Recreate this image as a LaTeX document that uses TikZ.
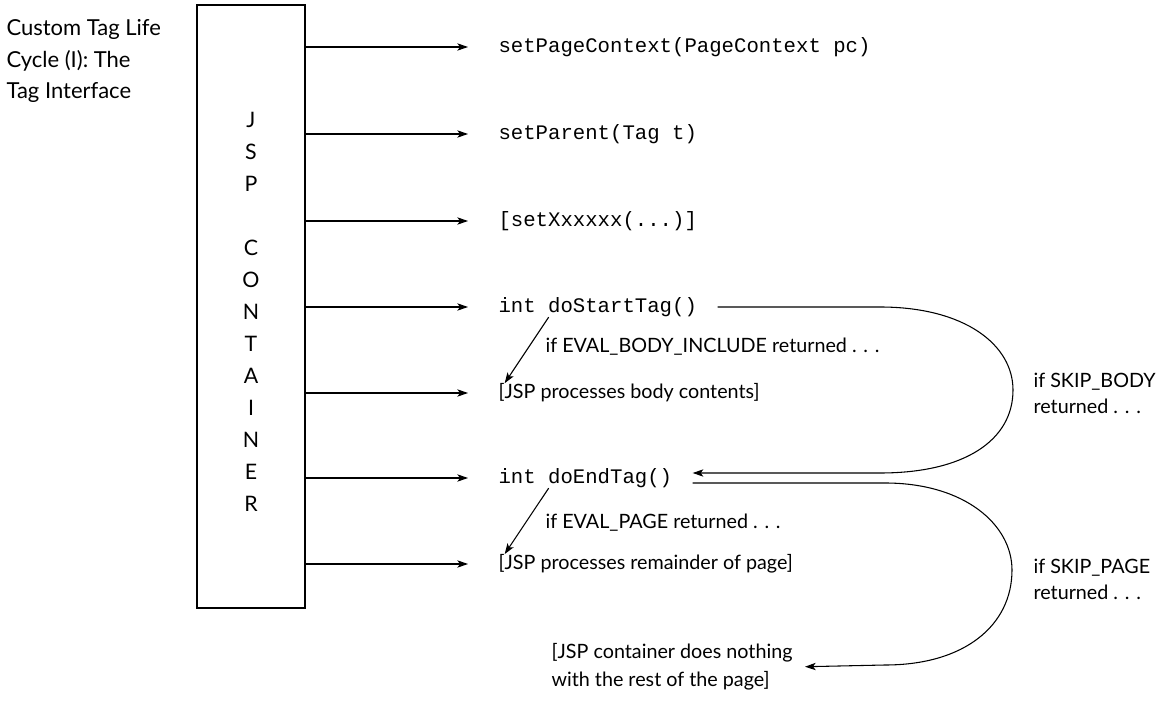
\documentclass[tikz,border=0pt]{standalone}
\usepackage{fontspec}
\setmainfont{Lato}
\setmonofont{Liberation Mono}
\usetikzlibrary{arrows.meta}

\begin{document}
\begin{tikzpicture}[x=0.75pt,y=-0.75pt,>={Stealth[length=8pt,width=5.5pt,inset=2pt]},
  line width=0.8pt,
  box node/.style={draw,line width=1pt,minimum width=81pt,minimum height=452pt,inner sep=0pt},
  letter node/.style={inner sep=0pt,align=center,font=\fontsize{16}{24}\selectfont},
  call node/.style={anchor=west,inner sep=0pt,font=\ttfamily\fontsize{15.5}{18}\selectfont},
  text node/.style={anchor=west,inner sep=0pt,font=\fontsize{14.8}{16}\selectfont},
  side node/.style={anchor=west,inner sep=0pt,align=left,font=\fontsize{14.8}{19.5}\selectfont},
  call/.style={->,shorten >=22.5pt},
  skip line/.style={->,shorten <=15pt,shorten >=15pt}]
  \useasboundingbox (0,0) rectangle (1168,702);

  \node[anchor=north west,inner sep=0pt,align=left,font=\fontsize{16.5}{23.6}\selectfont] (title) at (6,19)
    {Custom Tag Life\\Cycle (I): The\\Tag Interface};
  \node[box node] (box) at (251,306.5) {};
  \node[letter node] (jsp) at (251,312) {J\\S\\P\\[24pt]C\\O\\N\\T\\A\\I\\N\\E\\R};

  \node[call node] (ctx) at (498,47) {setPageContext(PageContext pc)};
  \node[call node] (parent) at (498,134) {setParent(Tag t)};
  \node[call node] (setx) at (498,221) {[setXxxxxx(...)]};
  \node[call node] (start) at (498,307) {int doStartTag()};
  \node[text node] (body) at (498,393) {[JSP processes body contents]};
  \node[call node] (end) at (498,478) {int doEndTag()};
  \node[text node] (rest) at (498,564) {[JSP processes remainder of page]};
  \node[side node,font=\fontsize{14.8}{21}\selectfont] (nothing) at (551,667)
    {[JSP container does nothing\\with the rest of the page]};

  \node[text node] (evalbody) at (545,347) {if EVAL\_BODY\_INCLUDE returned . . .};
  \node[text node] (evalpage) at (545,523) {if EVAL\_PAGE returned . . .};
  \node[side node] (skipbody) at (1033,393) {if SKIP\_BODY\\returned . . .};
  \node[side node] (skippage) at (1033,579) {if SKIP\_PAGE\\returned . . .};

  % calls from the container
  \draw[call] (box.east |- ctx.west) -- (ctx.west);
  \draw[call] (box.east |- parent.west) -- (parent.west);
  \draw[call] (box.east |- setx.west) -- (setx.west);
  \draw[call] (box.east |- start.west) -- (start.west);
  \draw[call] (box.east |- body.west) -- (body.west);
  \draw[call] (box.east |- end.west) -- (end.west);
  \draw[call] (box.east |- rest.west) -- (rest.west);

  \draw[->] ([xshift=38pt]start.south west) -- ([xshift=5pt]body.north west);
  \draw[->] ([xshift=38pt]end.south west) -- ([xshift=5pt]rest.north west);

  % skip loops
  \draw[skip line] (start.east) -- (880,307) .. controls (965,307) and (1013,345) .. (1013,390)
    .. controls (1013,440) and (965,473) .. (880,473) -- ([yshift=3.75pt]end.east);
  \draw[skip line,shorten >=9pt] ([yshift=-3.75pt]end.east) -- (885,483) .. controls (965,483) and (1012,525) .. (1012,570)
    .. controls (1012,625) and (965,665) .. (885,665) -- (nothing.east);
\end{tikzpicture}
\end{document}
